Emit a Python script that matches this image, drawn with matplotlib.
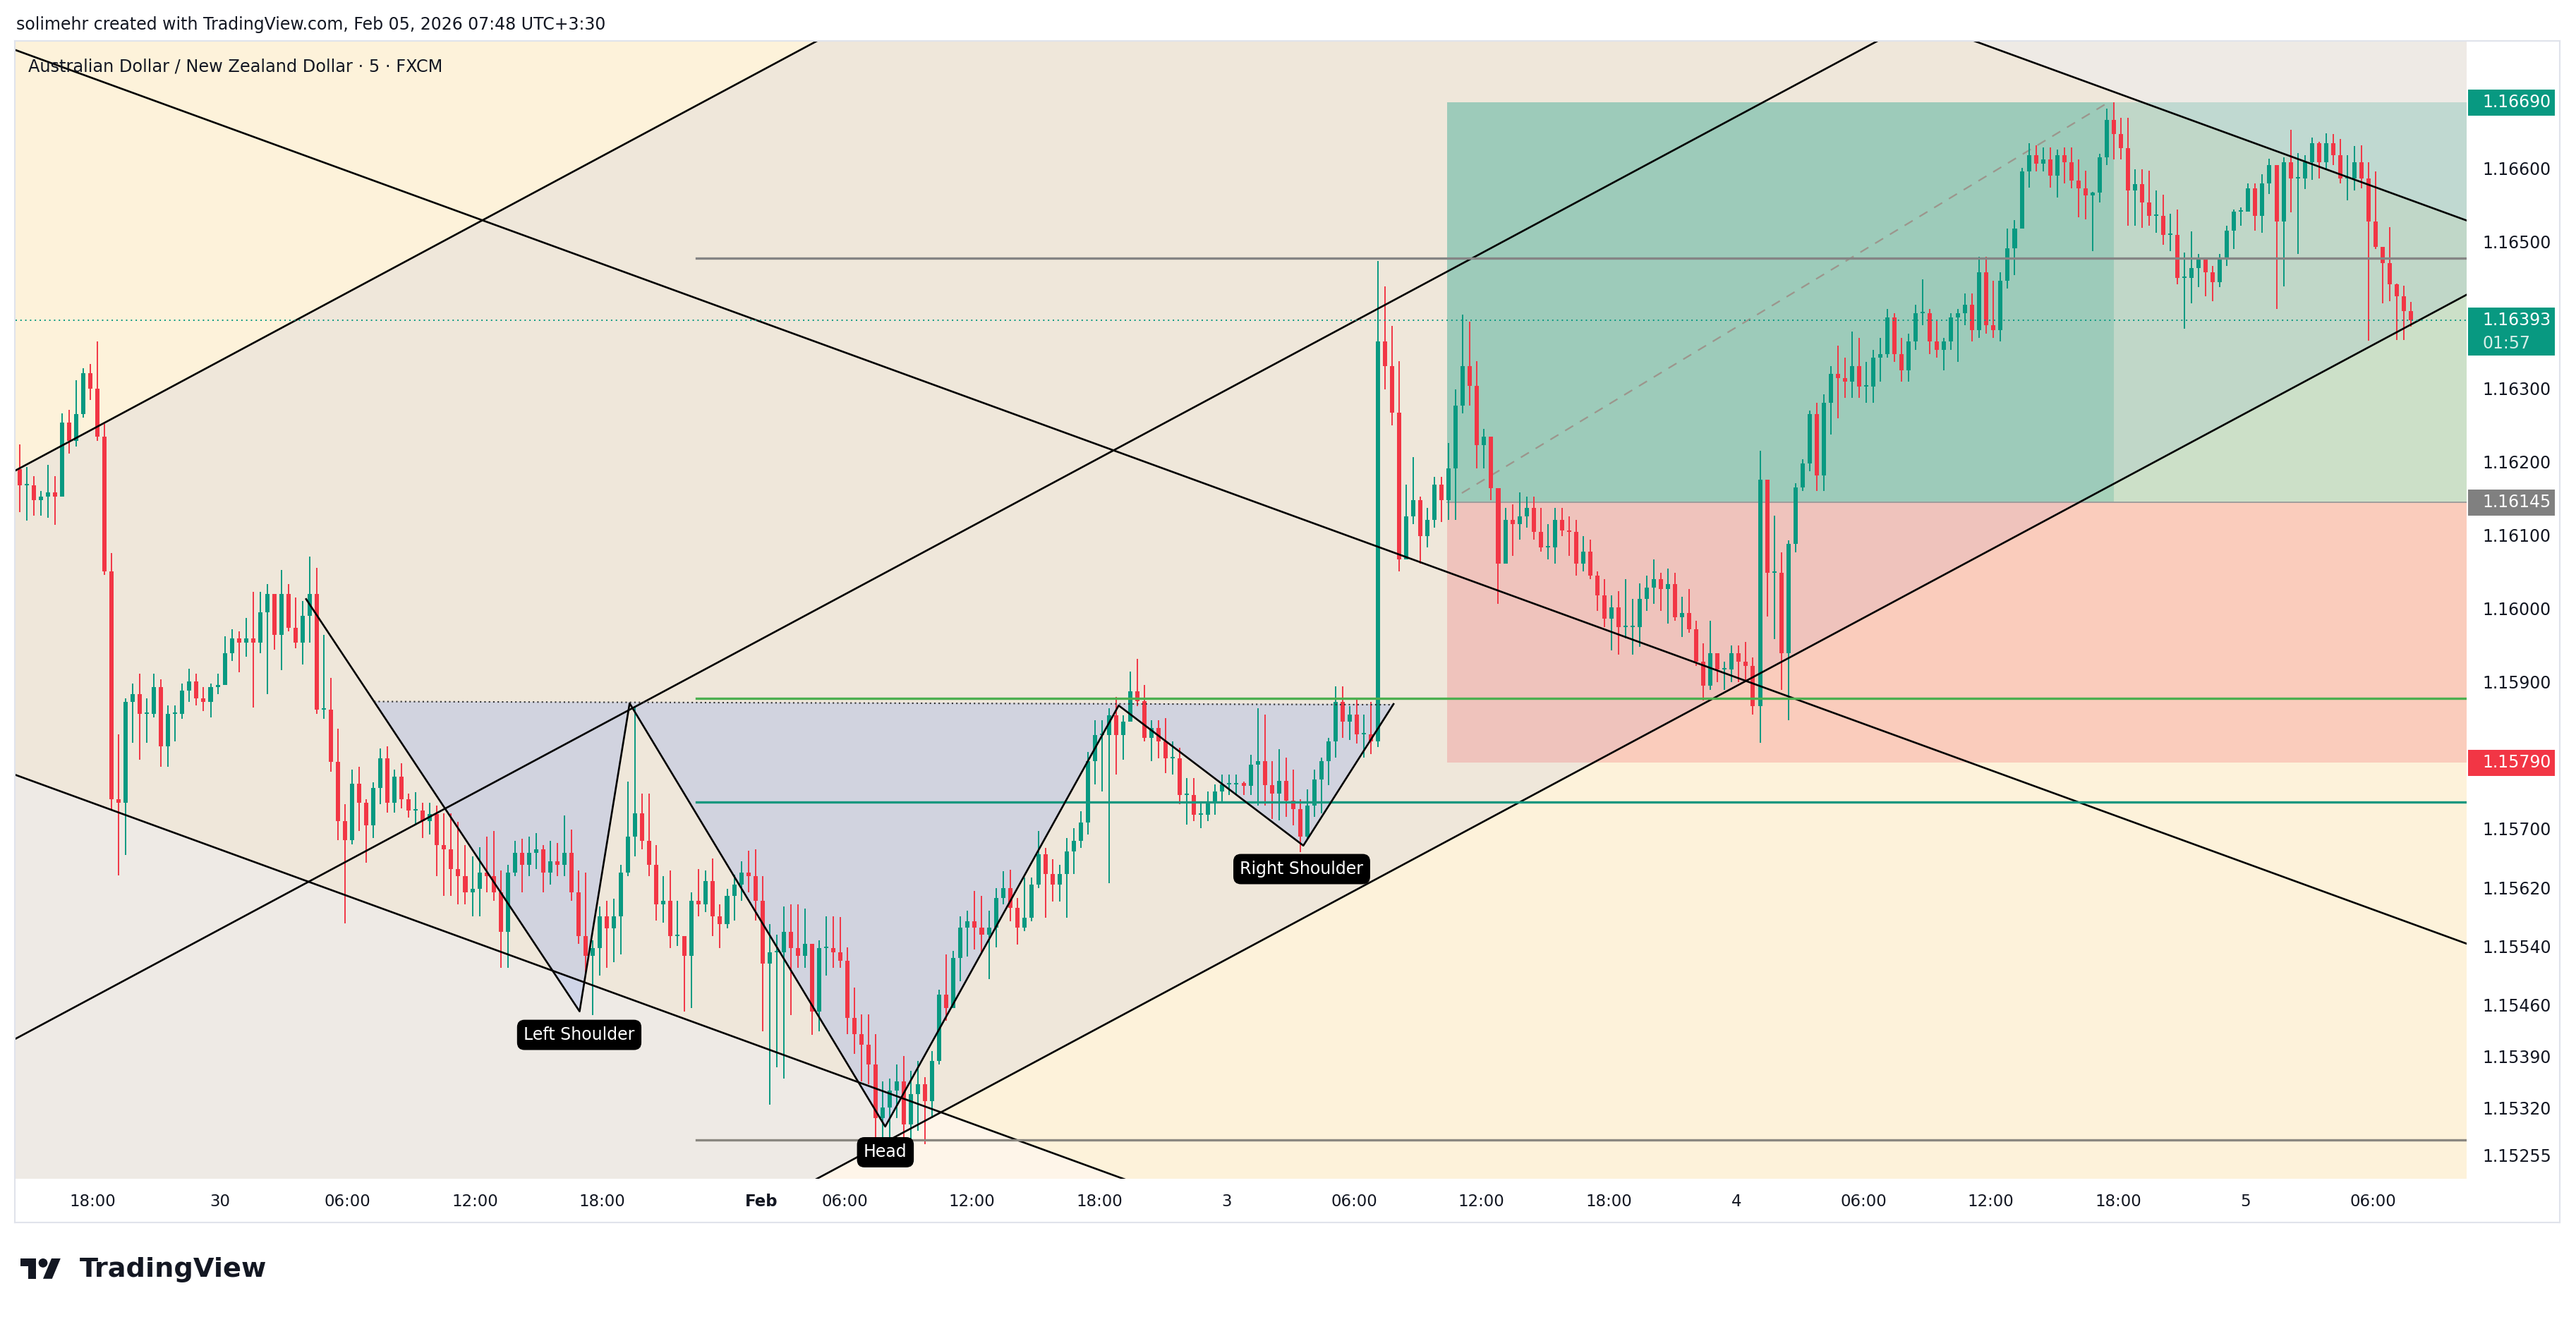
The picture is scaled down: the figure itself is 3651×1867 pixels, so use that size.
import numpy as np
import matplotlib
matplotlib.use('Agg')
import matplotlib.pyplot as plt
from matplotlib.patches import Polygon, Rectangle, Ellipse
from matplotlib.transforms import blended_transform_factory
from matplotlib.lines import Line2D

# ---------------- data ----------------
# AUD/NZD, candles of 20 minutes (4 five-minute bars). price = 1.15 + value / 100000
PRICE_BASE = 1.15
PRICE_UNIT = 1e-5
open_first = 1190
high_pts = [
    1224, 1193, 1181, 1160, 1196, 1181, 1266, 1271, 1311, 1328,
    1333, 1364, 1252, 1076, 829, 878, 898, 911, 878, 911,
    904, 868, 868, 898, 918, 911, 893, 898, 911, 962,
    972, 969, 987, 1023, 1023, 1033, 1020, 1053, 1033, 1015,
    1010, 1071, 1056, 964, 906, 836, 733, 781, 784, 740,
    763, 809, 812, 781, 789, 748, 750, 735, 735, 732,
    721, 721, 709, 678, 662, 675, 689, 697, 643, 651,
    683, 686, 689, 694, 678, 683, 681, 718, 699, 643,
    640, 548, 594, 602, 605, 651, 764, 867, 748, 748,
    678, 635, 643, 602, 548, 613, 645, 643, 659, 597,
    618, 637, 656, 670, 672, 635, 570, 556, 594, 597,
    597, 591, 543, 548, 581, 581, 580, 538, 483, 447,
    447, 420, 356, 359, 379, 390, 370, 383, 361, 397,
    481, 529, 533, 581, 588, 615, 608, 588, 619, 642,
    644, 606, 633, 633, 697, 674, 658, 651, 687, 701,
    724, 805, 848, 848, 864, 880, 855, 914, 932, 896,
    848, 848, 851, 819, 810, 769, 769, 737, 751, 760,
    774, 774, 774, 764, 801, 864, 856, 792, 808, 797,
    781, 740, 754, 781, 797, 824, 894, 894, 867, 878,
    856, 873, 1474, 1439, 1385, 1337, 1169, 1207, 1153, 1137,
    1180, 1180, 1226, 1299, 1401, 1391, 1337, 1245, 1229, 1164,
    1137, 1142, 1158, 1153, 1153, 1137, 1115, 1137, 1137, 1126,
    1121, 1099, 1094, 1051, 1040, 1018, 1024, 1040, 1013, 1034,
    1045, 1067, 1049, 1055, 1049, 1016, 1027, 983, 953, 983,
    939, 928, 950, 950, 955, 933, 1215, 1176, 1127, 1077,
    1093, 1171, 1204, 1270, 1281, 1292, 1331, 1358, 1342, 1378,
    1369, 1336, 1353, 1369, 1408, 1403, 1369, 1375, 1414, 1449,
    1408, 1392, 1369, 1403, 1408, 1430, 1430, 1480, 1480, 1447,
    1458, 1518, 1530, 1601, 1634, 1632, 1629, 1629, 1626, 1629,
    1629, 1612, 1597, 1568, 1620, 1682, 1690, 1669, 1669, 1599,
    1599, 1597, 1570, 1564, 1538, 1544, 1485, 1514, 1483, 1477,
    1467, 1483, 1522, 1544, 1547, 1580, 1580, 1592, 1613, 1605,
    1615, 1653, 1621, 1618, 1642, 1636, 1648, 1647, 1640, 1618,
    1631, 1632, 1608, 1596, 1493, 1520, 1443, 1440, 1418]
low_pts = [
    1132, 1120, 1127, 1127, 1124, 1114, 1153, 1211, 1221, 1260,
    1284, 1229, 1046, 725, 636, 664, 817, 794, 817, 852,
    784, 784, 819, 850, 873, 868, 860, 852, 883, 906,
    929, 913, 934, 865, 939, 883, 944, 916, 969, 946,
    924, 954, 857, 850, 778, 684, 571, 679, 697, 654,
    687, 733, 722, 722, 728, 715, 705, 687, 692, 635,
    608, 608, 597, 597, 581, 581, 613, 602, 510, 510,
    635, 613, 635, 645, 613, 624, 635, 635, 602, 543,
    505, 446, 500, 510, 518, 529, 635, 662, 672, 635,
    575, 572, 537, 540, 451, 456, 581, 586, 554, 537,
    564, 575, 602, 613, 575, 424, 324, 375, 359, 446,
    510, 510, 419, 424, 500, 510, 510, 420, 393, 356,
    352, 275, 275, 275, 306, 270, 275, 288, 270, 306,
    379, 438, 456, 492, 526, 535, 529, 495, 538, 597,
    574, 542, 560, 574, 619, 579, 601, 601, 579, 638,
    674, 692, 760, 751, 626, 774, 794, 851, 867, 819,
    792, 796, 776, 774, 733, 706, 710, 701, 710, 719,
    737, 746, 746, 746, 746, 732, 732, 713, 711, 716,
    705, 668, 684, 716, 721, 759, 797, 824, 821, 816,
    797, 802, 811, 1299, 1250, 1051, 1067, 1115, 1061, 1083,
    1110, 1118, 1121, 1121, 1266, 1277, 1191, 1191, 1148, 1007,
    1061, 1072, 1094, 1110, 1094, 1078, 1067, 1061, 1099, 1072,
    1045, 1051, 1040, 997, 975, 943, 937, 959, 937, 948,
    997, 1007, 997, 980, 983, 961, 967, 922, 875, 889,
    900, 889, 900, 900, 900, 856, 817, 989, 958, 889,
    848, 1077, 1160, 1187, 1160, 1160, 1237, 1259, 1287, 1287,
    1287, 1281, 1281, 1309, 1342, 1336, 1309, 1309, 1353, 1386,
    1347, 1342, 1325, 1353, 1336, 1386, 1364, 1369, 1375, 1369,
    1364, 1436, 1455, 1518, 1574, 1596, 1596, 1574, 1560, 1580,
    1573, 1533, 1531, 1487, 1554, 1605, 1612, 1612, 1522, 1522,
    1519, 1522, 1512, 1496, 1487, 1442, 1382, 1416, 1438, 1426,
    1419, 1438, 1467, 1490, 1522, 1541, 1515, 1512, 1565, 1408,
    1439, 1540, 1483, 1572, 1584, 1586, 1599, 1605, 1580, 1557,
    1570, 1573, 1365, 1490, 1416, 1419, 1366, 1366, 1384]
close_pts = [
    1168, 1168, 1148, 1153, 1158, 1153, 1254, 1229, 1265, 1321,
    1300, 1234, 1051, 740, 735, 873, 883, 857, 857, 893,
    812, 857, 857, 888, 901, 878, 873, 893, 896, 939,
    959, 954, 959, 954, 995, 1020, 964, 1020, 974, 954,
    990, 1020, 862, 862, 791, 710, 684, 761, 735, 705,
    756, 796, 735, 771, 740, 725, 725, 710, 720, 678,
    672, 645, 635, 613, 618, 640, 635, 613, 559, 640,
    667, 651, 667, 672, 640, 656, 651, 667, 613, 554,
    527, 537, 581, 564, 581, 640, 689, 721, 683, 651,
    597, 602, 554, 554, 527, 602, 597, 629, 581, 570,
    608, 624, 640, 635, 602, 516, 532, 532, 559, 537,
    527, 543, 451, 537, 537, 532, 520, 442, 420, 406,
    379, 306, 320, 343, 356, 297, 338, 352, 329, 383,
    474, 456, 524, 565, 574, 565, 556, 565, 606, 619,
    592, 565, 579, 624, 665, 638, 624, 638, 669, 683,
    708, 792, 828, 828, 855, 828, 846, 887, 874, 824,
    837, 819, 796, 796, 746, 746, 719, 719, 737, 751,
    760, 760, 762, 758, 787, 792, 759, 748, 765, 738,
    727, 689, 732, 767, 792, 819, 873, 846, 856, 829,
    829, 819, 1364, 1331, 1267, 1067, 1126, 1148, 1099, 1121,
    1169, 1148, 1191, 1277, 1331, 1304, 1223, 1234, 1164, 1061,
    1121, 1115, 1126, 1137, 1105, 1083, 1083, 1121, 1107, 1105,
    1061, 1078, 1045, 1018, 986, 1002, 975, 975, 975, 1013,
    1029, 1040, 1027, 1033, 988, 994, 972, 928, 895, 939,
    917, 917, 939, 928, 922, 867, 1176, 1049, 1049, 939,
    1088, 1165, 1198, 1265, 1182, 1281, 1320, 1314, 1309, 1331,
    1303, 1303, 1342, 1347, 1397, 1347, 1325, 1364, 1403, 1403,
    1364, 1353, 1364, 1397, 1403, 1414, 1380, 1458, 1386, 1380,
    1447, 1491, 1518, 1596, 1618, 1607, 1612, 1590, 1618, 1608,
    1583, 1573, 1563, 1567, 1615, 1666, 1647, 1628, 1570, 1579,
    1554, 1535, 1535, 1509, 1509, 1451, 1451, 1464, 1477, 1458,
    1445, 1477, 1515, 1541, 1541, 1573, 1535, 1580, 1605, 1528,
    1608, 1586, 1586, 1608, 1634, 1608, 1634, 1618, 1586, 1586,
    1608, 1586, 1528, 1493, 1471, 1442, 1426, 1406, 1393]

# time axis (x in 5-minute bar index)
time_tick_bars = [43, 115, 187, 259, 331, 421, 468, 540, 612, 684,
                  756, 828, 900, 972, 1044, 1116, 1188, 1260, 1332]
time_tick_labels = ['18:00', '30', '06:00', '12:00', '18:00', 'Feb', '06:00', '12:00',
                    '18:00', '3', '06:00', '12:00', '18:00', '4', '06:00', '12:00',
                    '18:00', '5', '06:00']
price_ticks = [1.16600, 1.16500, 1.16300, 1.16200, 1.16100, 1.16000,
               1.15900, 1.15700, 1.15620, 1.15540, 1.15460, 1.15390,
               1.15320, 1.15255]
x_range = (-0.8, 1385)
y_range = (1.152229, 1.167729)

# drawings (anchor bar, anchor price) and slopes in price per bar
asc_upper = (-0.84, 1.161883)
asc_mid = (347.9, 1.158642)
asc_lower = (499.3, 1.152836)
asc_slope = 1.292e-5
desc_upper = (1174.4, 1.167142)
desc_mid = (692.5, 1.161520)
desc_lower = (-0.84, 1.157734)
desc_slope = -0.879e-5

level_start = 384
level_prices = [1.16478, 1.15878, 1.157365, 1.15276]

hs_bars = [163.5, 318.1, 346.4, 490.9, 622.9, 727.3, 778.3]
hs_prices = [1.16013, 1.15451, 1.15871, 1.15294, 1.15868, 1.15677, 1.15870]
neck_bars = [201.9, 778.3]
neck_prices = [1.158734, 1.15869]
hs_labels = ['Left Shoulder', 'Head', 'Right Shoulder']
hs_label_bars = [317.9, 491.0, 726.4]
hs_label_prices = [1.15419, 1.15259, 1.15645]

entry_price, target_price, stop_price = 1.16145, 1.16690, 1.15790
pos_start_bar, pos_exit_bar = 808.5, 1185.5
trade_path_bars = [816.9, 1182.4]
trade_path_prices = [1.161575, 1.16690]

last_price = 1.16393
countdown = '01:57'

# ---------------- figure ----------------
W, H = 3651, 1867
fig = plt.figure(figsize=(W / 100, H / 100), dpi=100)
fig.patch.set_facecolor('white')
AX_L, AX_R, AX_T, AX_B = 22, 3496, 59, 1671
ax = fig.add_axes([AX_L / W, 1 - AX_B / H, (AX_R - AX_L) / W, (AX_B - AX_T) / H])
ax.set_xlim(*x_range)
ax.set_ylim(*y_range)
ax.set_facecolor('#FEF5E9')
for s in ax.spines.values():
    s.set_visible(False)

ax_h_px = AX_B - AX_T
def dp(px):
    return px * (y_range[1] - y_range[0]) / ax_h_px

def line_at(anchor, slope, x):
    return anchor[1] + slope * (np.asarray(x) - anchor[0])

xs = np.array([-400.0, 1800.0])
# channel fills
desc_poly = Polygon(np.column_stack([np.r_[xs, xs[::-1]],
                                     np.r_[line_at(desc_upper, desc_slope, xs),
                                           line_at(desc_lower, desc_slope, xs[::-1])]]),
                    closed=True, fc='#FDF2DA', ec='none', zorder=0.1)
ax.add_patch(desc_poly)
asc_verts = np.column_stack([np.r_[xs, xs[::-1]],
                             np.r_[line_at(asc_upper, asc_slope, xs),
                                   line_at(asc_lower, asc_slope, xs[::-1])]])
ax.add_patch(Polygon(asc_verts, closed=True, fc='#EEEAE5', ec='none', zorder=0.2))
both = Polygon(asc_verts, closed=True, fc='#EFE7DA', ec='none', zorder=0.3)
ax.add_patch(both)
both.set_clip_path(desc_poly)

# long position tool
green = (8 / 255, 153 / 255, 129 / 255)
red = (242 / 255, 54 / 255, 69 / 255)
far = x_range[1] + 50
ax.add_patch(Rectangle((pos_start_bar, entry_price), far - pos_start_bar, target_price - entry_price,
                       fc=green, alpha=0.2, ec='none', zorder=1))
ax.add_patch(Rectangle((pos_start_bar, entry_price), pos_exit_bar - pos_start_bar, target_price - entry_price,
                       fc=green, alpha=0.19, ec='none', zorder=1))
ax.add_patch(Rectangle((pos_start_bar, stop_price), far - pos_start_bar, entry_price - stop_price,
                       fc=red, alpha=0.2, ec='none', zorder=1))
ax.plot([pos_start_bar, far], [entry_price, entry_price], color='#9A9A9A', lw=1.3, zorder=1.1)
ax.plot(trade_path_bars, trade_path_prices, color='#9C958C', lw=1.6, ls=(0, (6, 5)), zorder=1.1)

# head & shoulders fill
hs_poly = [(neck_bars[0], neck_prices[0])] + list(zip(hs_bars[1:], hs_prices[1:]))
ax.add_patch(Polygon(hs_poly, closed=True, fc='#2962FF', alpha=0.15, ec='none', zorder=1.2))

# candles
high = PRICE_BASE + np.array(high_pts) * PRICE_UNIT
low = PRICE_BASE + np.array(low_pts) * PRICE_UNIT
close = PRICE_BASE + np.array(close_pts) * PRICE_UNIT
opn = np.r_[PRICE_BASE + open_first * PRICE_UNIT, close[:-1]]
n = len(close)
x = np.arange(n) * 4 + 1.5
up = close >= opn
cols = np.where(up, '#089981', '#F23645')
hi = np.maximum.reduce([high, opn, close])
lo = np.minimum.reduce([low, opn, close])
ax.vlines(x, lo, hi, colors=cols, lw=1.4, zorder=3)
body_lo = np.minimum(opn, close)
body_h = np.maximum(np.abs(close - opn), dp(2))
ax.bar(x, body_h, bottom=body_lo, width=2.4, color=cols, linewidth=0, zorder=3.1)

# channel lines
for anc in (asc_upper, asc_mid, asc_lower):
    ax.plot(xs, line_at(anc, asc_slope, xs), color='black', lw=1.9, zorder=4)
for anc in (desc_upper, desc_mid, desc_lower):
    ax.plot(xs, line_at(anc, desc_slope, xs), color='black', lw=1.9, zorder=4)

# horizontal levels
level_colors = ['#858585', '#4CAF50', '#16977F', '#8A8780']
for p, c in zip(level_prices, level_colors):
    ax.plot([level_start, far], [p, p], color=c, lw=2.4, zorder=4)

# H&S lines
ax.plot(neck_bars, neck_prices, color='#333333', lw=1.5, ls=(0, (1, 2)), zorder=4)
ax.plot(hs_bars, hs_prices, color='black', lw=1.9, zorder=4.2)
for t, bx, by in zip(hs_labels, hs_label_bars, hs_label_prices):
    ax.text(bx, by, t, color='white', fontsize=17, ha='center', va='center', zorder=8,
            bbox=dict(boxstyle='round,pad=0.4,rounding_size=0.45', fc='black', ec='none'))

# last price line
ax.plot([x_range[0], x_range[1]], [last_price, last_price], color='#089981', lw=1.4,
        ls=(0, (1, 2.5)), zorder=4)

# axes ticks
ax.set_xticks(time_tick_bars)
ax.set_xticklabels(time_tick_labels)
ax.tick_params(axis='x', length=0, pad=15, labelsize=16.5, labelcolor='#131722')
ax.get_xticklabels()[time_tick_labels.index('Feb')].set_fontweight('bold')
ax.yaxis.tick_right()
ax.set_yticks(price_ticks)
ax.set_yticklabels([f'{p:.5f}' for p in price_ticks])
ax.tick_params(axis='y', length=0, pad=16, labelsize=17, labelcolor='#131722')

# price labels on scale
tr = blended_transform_factory(ax.transAxes, ax.transData)
def axfrac(px):
    return (px - AX_L) / (AX_R - AX_L)
box_prices = [target_price, last_price, entry_price, stop_price]
box_colors = ['#089981', '#089981', '#808080', '#F23645']
for p, c in zip(box_prices, box_colors):
    top, bot = p + dp(18.5), p - dp(18.5)
    if p == last_price:
        bot = p - dp(50)
    ax.add_patch(Rectangle((axfrac(3498), bot), axfrac(3621) - axfrac(3498), top - bot,
                           transform=tr, fc=c, ec='none', clip_on=False, zorder=20))
    ax.text(axfrac(3518), p, f'{p:.5f}', transform=tr, color='white', fontsize=17,
            ha='left', va='center', zorder=21, clip_on=False)
ax.text(axfrac(3518), last_price - dp(33), countdown, transform=tr, color='#D5EEE8',
        fontsize=17, ha='left', va='center', zorder=21, clip_on=False)

# frame
def fx(px):
    return px / W
def fy(py):
    return 1 - py / H
fc = '#E0E3EB'
for (x0, y0, x1, y1) in [(21, 58, 21, 1733), (21, 1733, 3628, 1733), (3628, 58, 3628, 1733),
                         (21, 58, 3628, 58)]:
    fig.add_artist(Line2D([fx(x0), fx(x1)], [fy(y0), fy(y1)], color=fc, lw=1.5))

# texts
fig.text(fx(23), fy(35), 'solimehr created with TradingView.com, Feb 05, 2026 07:48 UTC+3:30',
         fontsize=17, color='#131722', ha='left', va='center')
fig.text(fx(40), fy(95), 'Australian Dollar / New Zealand Dollar · 5 · FXCM',
         fontsize=17.3, color='#131722', ha='left', va='center', zorder=5)

# logo
s = 1.6
ox, oy = 29, 1777.6
def lp(u, v):
    return (fx(ox + u * s), fy(oy + v * s))
fig.add_artist(Polygon([lp(0, 4), lp(14, 4), lp(14, 22), lp(7, 22), lp(7, 11), lp(0, 11)],
                       closed=True, fc='#131722', ec='none', transform=fig.transFigure))
fig.add_artist(Polygon([lp(20, 22), lp(27.5, 4), lp(35.5, 4), lp(28, 22)],
                       closed=True, fc='#131722', ec='none', transform=fig.transFigure))
cx, cy = lp(20, 8)
fig.add_artist(Ellipse((cx, cy), 2 * 4 * s / W, 2 * 4 * s / H, fc='#131722', ec='none',
                       transform=fig.transFigure))
fig.text(fx(113), fy(1800), 'TradingView', fontsize=27.5, fontweight='bold', color='#131722',
         ha='left', va='center')

fig.savefig('out.png', dpi=100, facecolor='white')
